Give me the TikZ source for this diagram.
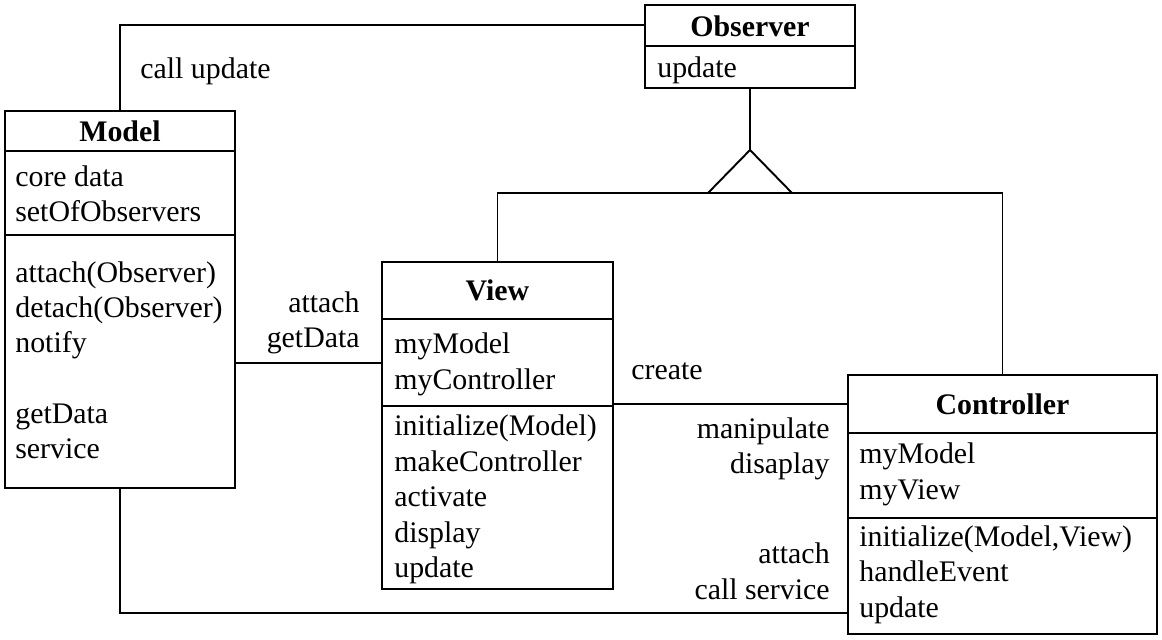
\documentclass[tikz,border=0pt]{standalone}
\usepackage{fontspec}
\setmainfont{Liberation Serif}
\usetikzlibrary{positioning, calc}
\newdimen\px \px=0.02cm
\tikzset{
x=1\px, y=-1\px, % one unit is one pixel of the sketch, y runs downwards
every node/.style={font=\fontsize{17}{20}\selectfont, inner sep=0pt}, % serif text everywhere
classbox/.style={draw, line width=1.1pt}, % the frame of a class
classname/.style={font=\fontsize{17}{20}\selectfont\bfseries}, % bold class title
member/.style={anchor=mid west, yshift=-6\px}, % attributes and operations
rlabel/.style={anchor=mid east, yshift=-6\px}, % labels that end at the connector
link/.style={line width=1.1pt}, % connectors
}

\begin{document}
\begin{tikzpicture}

            \fill[white] (0,0) rectangle (1162,639);
            \useasboundingbox (0,0) rectangle (1162,639);

            % classes
            \node[classbox, minimum width=210\px, minimum height=83\px] (observer) at (750,46.5) {};
            \node[classbox, minimum width=230\px, minimum height=377\px] (model) at (120,299.5) {};
            \node[classbox, minimum width=231\px, minimum height=327\px] (view) at (497.5,425.5) {};
            \node[classbox, minimum width=309\px, minimum height=259\px] (controller) at (1002.5,504.5) {};

            \draw[link] ($(observer.north west)+(0,42)$) -- ($(observer.north east)+(0,42)$);
            \draw[link] ($(model.north west)+(0,41)$) -- ($(model.north east)+(0,41)$);
            \draw[link] ($(model.north west)+(0,125)$) -- ($(model.north east)+(0,125)$);
            \draw[link] ($(view.north west)+(0,58)$) -- ($(view.north east)+(0,58)$);
            \draw[link] ($(view.north west)+(0,145)$) -- ($(view.north east)+(0,145)$);
            \draw[link] ($(controller.north west)+(0,59)$) -- ($(controller.north east)+(0,59)$);
            \draw[link] ($(controller.north west)+(0,144)$) -- ($(controller.north east)+(0,144)$);

            \node[classname] (observername) at (750,26) {Observer};
            \node[member] (observerop) at (657,67) {update};

            \node[classname] (modelname) at (120,131) {Model};
            \foreach \t [count=\i] in {core data, setOfObservers}
                \node[member] (modelattr\i) at (15,141+35*\i) {\t};
            \foreach \t [count=\i] in {attach(Observer), detach(Observer), notify, {}, getData, service}
                \node[member] (modelop\i) at (15,237+35.2*\i) {\t};

            \node[classname] (viewname) at (497.5,290) {View};
            \foreach \t [count=\i] in {myModel, myController}
                \node[member] (viewattr\i) at (394,308+35.5*\i) {\t};
            \foreach \t [count=\i] in {initialize(Model), makeController, activate, display, update}
                \node[member] (viewop\i) at (394,390+35.5*\i) {\t};

            \node[classname] (controllername) at (1002.5,404) {Controller};
            \foreach \t [count=\i] in {myModel, myView}
                \node[member] (controllerattr\i) at (859,417+36*\i) {\t};
            \foreach \t [count=\i] in {{initialize(Model,View)}, handleEvent, update}
                \node[member] (controllerop\i) at (859,500.5+35.5*\i) {\t};

            % connectors
            \coordinate (callrow) at (0,25);
            \coordinate (apex) at (750,150);
            \coordinate (genrow) at (0,193);
            \coordinate (attachrow) at (0,363);
            \coordinate (createrow) at (0,404);
            \coordinate (servicerow) at (0,613);

            \draw[link] (model.north) |- (observer.west |- callrow);
            \draw[link] (observer.south) -- (apex);
            \draw[link] (apex) -- ++(-42,43) -- ++(84,0) -- cycle;
            \draw[link] (view.north) |- (controller.north |- genrow) -- (controller.north);
            \draw[link] (model.east |- attachrow) -- (view.west |- attachrow);
            \draw[link] (view.east |- createrow) -- (controller.west |- createrow);
            \draw[link] (model.south) |- (controller.west |- servicerow);

            % labels
            \node[member] (callupdate) at (140,68) {call update};
            \node[rlabel] (attach) at (360,302) {attach};
            \node[rlabel] (getdata) at (360,337) {getData};
            \node[member] (create) at (631,369) {create};
            \node[rlabel] (manipulate) at (830,428) {manipulate};
            \node[rlabel] (disaplay) at (830,463) {disaplay};
            \node[rlabel] (attachc) at (830,553) {attach};
            \node[rlabel] (callservice) at (830,589) {call service};
        \end{tikzpicture}
\end{document}
